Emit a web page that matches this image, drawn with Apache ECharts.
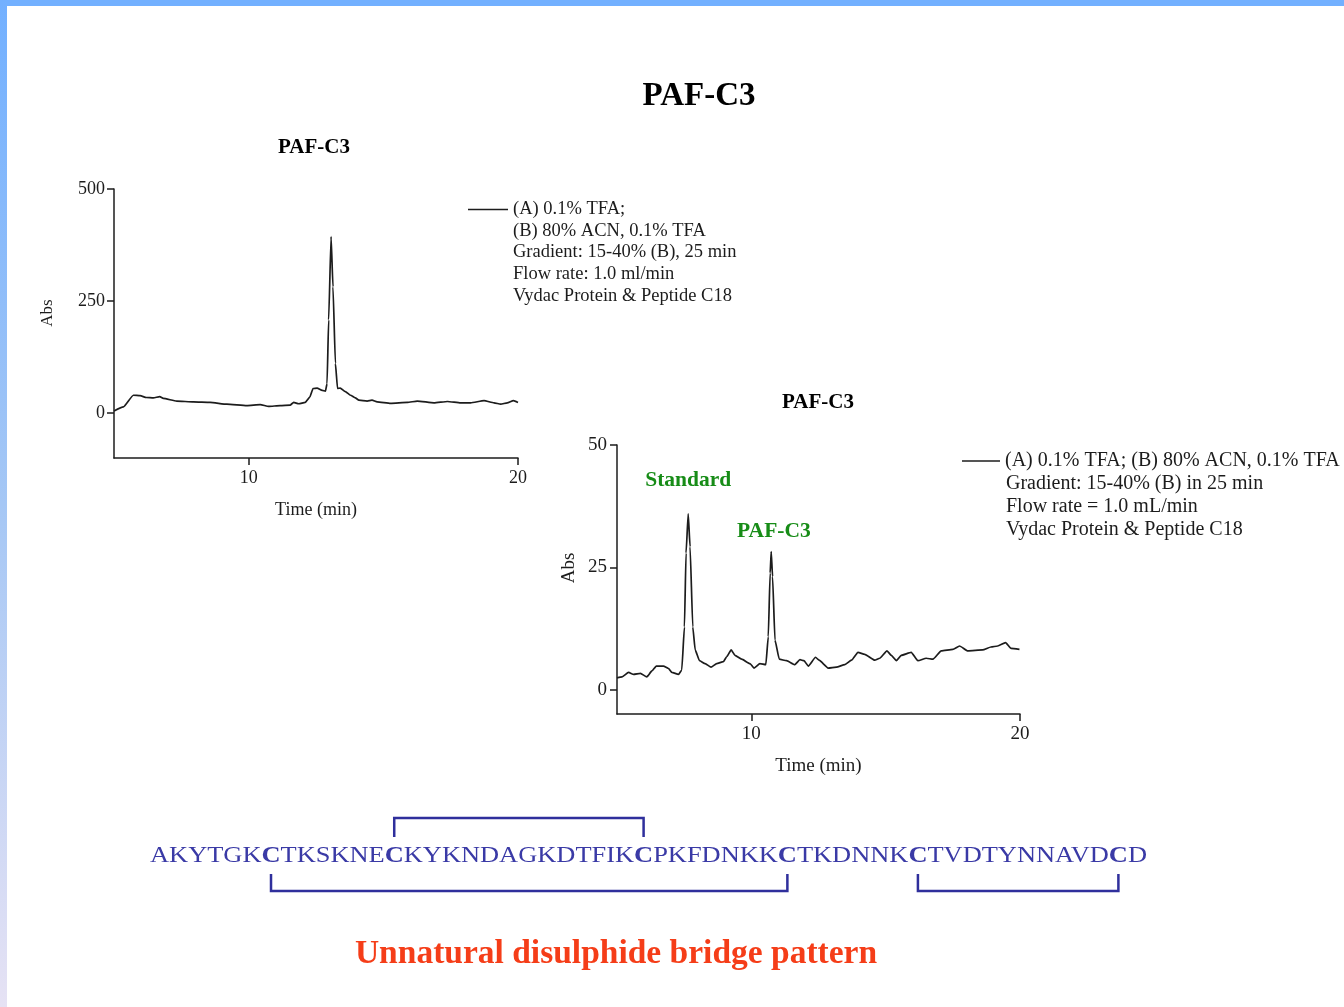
<!DOCTYPE html>
<html>
<head>
<meta charset="utf-8">
<title>PAF-C3</title>
<script src="https://cdn.jsdelivr.net/npm/echarts@6.0.0/dist/echarts.min.js"></script>
<style>
  html, body { margin: 0; padding: 0; background: #ffffff; }
  #chart { width: 1344px; height: 1007px; }
</style>
</head>
<body>
<div id="chart"></div>
<script>
// Chromatogram 1: PAF-C3 alone (retention time in min, absorbance)
const leftTime = [5.0, 5.35, 5.72, 5.97, 6.2, 6.46, 6.7, 6.83, 7.33, 7.95, 8.57, 9.19, 9.93, 10.43, 10.74,
  11.17, 11.54, 11.67, 11.86, 12.1, 12.27, 12.39, 12.54, 12.73, 12.85, 12.91, 12.97, 13.06, 13.13, 13.22,
  13.3, 13.4, 13.59, 13.78, 13.96, 14.09, 14.4, 14.58, 14.77, 15.27, 15.89, 16.26, 16.88, 17.38, 17.87,
  18.24, 18.74, 19.11, 19.36, 19.6, 19.83, 20.0];
const leftAbs = [5, 14, 40, 39, 35, 34, 37, 33, 27, 25, 24, 20, 17, 19, 15,
  17, 18, 24, 21, 24, 36, 55, 56, 51, 49, 66, 208, 394, 282, 111,
  55, 56, 48, 40, 34, 29, 27, 29, 25, 22, 24, 27, 23, 26, 23,
  23, 28, 23, 20, 23, 28, 24];

// Chromatogram 2: standard co-injected with PAF-C3
const rightTime = [5.0, 5.19, 5.43, 5.62, 5.87, 6.11, 6.3, 6.46, 6.73, 6.92, 7.04, 7.29, 7.41, 7.51, 7.57,
  7.65, 7.72, 7.82, 7.91, 8.07, 8.28, 8.5, 8.71, 8.96, 9.08, 9.25, 9.39, 9.64, 9.95, 10.1,
  10.32, 10.54, 10.63, 10.7, 10.74, 10.79, 10.88, 11.04, 11.31, 11.62, 11.81, 11.96, 12.12, 12.39, 12.52,
  12.86, 13.17, 13.48, 13.73, 13.97, 14.22, 14.59, 14.78, 15.05, 15.21, 15.4, 15.58, 15.95, 16.2, 16.51,
  16.76, 17.07, 17.5, 17.75, 18.06, 18.61, 18.92, 19.17, 19.46, 19.67, 19.98];
const rightAbs = [2.4, 2.6, 3.5, 3.1, 3.3, 2.6, 3.8, 4.8, 4.8, 4.3, 3.5, 3.1, 4.0, 12.8, 27.9,
  35.9, 29.2, 12.8, 8.1, 5.9, 5.3, 4.6, 5.3, 5.7, 6.7, 8.1, 7.0, 6.2, 5.3, 4.4,
  5.3, 5.1, 10.8, 23.8, 28.2, 23.1, 10.1, 6.2, 5.9, 5.1, 6.1, 5.9, 4.8, 6.6, 6.0,
  4.4, 4.6, 5.1, 6.0, 7.6, 7.2, 6.0, 6.4, 7.9, 7.0, 5.9, 7.0, 7.6, 5.9, 6.4,
  6.2, 7.9, 8.2, 8.9, 7.9, 8.1, 8.7, 8.9, 9.6, 8.4, 8.2];

const timeTicks = [10, 20];
const leftAbsTicks = [0, 250, 500];
const rightAbsTicks = [0, 25, 50];

const leftNotes = ['(A) 0.1% TFA;', '(B) 80% ACN, 0.1% TFA', 'Gradient: 15-40% (B), 25 min',
  'Flow rate: 1.0 ml/min', 'Vydac Protein & Peptide C18'];
const rightNotes = ['(A) 0.1% TFA; (B) 80% ACN, 0.1% TFA', 'Gradient: 15-40% (B) in 25 min',
  'Flow rate = 1.0 mL/min', 'Vydac Protein & Peptide C18'];

const peakLabels = ['Standard', 'PAF-C3'];

// Peptide sequence and its disulphide bridges (1-based residue numbers)
const sequence = 'AKYTGKCTKSKNECKYKNDAGKDTFIKCPKFDNKKCTKDNNKCTVDTYNNAVDCD';
const bridgesAbove = [[14, 28]];
const bridgesBelow = [[7, 36], [43, 54]];

const SERIF = '"Liberation Serif", "Times New Roman", serif';
const INK = '#1c1c1c';
const SEQ_BLUE = '#3a3aa6';
const BRIDGE_BLUE = '#2f2f9c';

// ---- sequence layout: measure runs so cysteines can be located ----
const seqSize = 24;
const mctx = document.createElement('canvas').getContext('2d');
const runs = [];
for (const ch of sequence) {
  const bold = ch === 'C';
  const last = runs[runs.length - 1];
  if (last && !bold && !last.bold) last.text += ch;
  else runs.push({ text: ch, bold });
}
let acc = 0, residue = 0;
const cysCenter = {};
runs.forEach(r => {
  r.font = (r.bold ? 'bold ' : '') + seqSize + 'px ' + SERIF;
  mctx.font = r.font;
  r.x = acc;
  r.w = mctx.measureText(r.text).width;
  if (r.bold) cysCenter[residue + 1] = acc + r.w / 2;
  acc += r.w;
  residue += r.text.length;
});
const seqLeft = 150, seqMid = 856, seqWidth = 997;
const seqScale = seqWidth / acc;
const cx = i => seqLeft + cysCenter[i] * seqScale;

const bridgeShapes = [];
bridgesAbove.forEach(([a, b]) => bridgeShapes.push({
  type: 'polyline',
  shape: { points: [[cx(a), 837], [cx(a), 818], [cx(b), 818], [cx(b), 837]] },
  style: { stroke: BRIDGE_BLUE, lineWidth: 2.5, fill: null }
}));
bridgesBelow.forEach(([a, b]) => bridgeShapes.push({
  type: 'polyline',
  shape: { points: [[cx(a), 874], [cx(a), 891], [cx(b), 891], [cx(b), 874]] },
  style: { stroke: BRIDGE_BLUE, lineWidth: 2.5, fill: null }
}));

function noteLines(lines, x, y0, step, size) {
  return lines.slice(1).map((t, i) => ({
    type: 'text', x: x, y: y0 + step * (i + 1),
    style: { text: t, font: size + 'px ' + SERIF, fill: INK, verticalAlign: 'middle', align: 'left' }
  }));
}

function valueAxis(gridIndex, min, max, ticks, fs, labelMargin, extra) {
  return Object.assign({
    type: 'value', gridIndex, min, max,
    axisLine: { show: true, onZero: false, lineStyle: { color: INK, width: 1.5 } },
    axisTick: { show: true, length: 7, inside: false, customValues: ticks, lineStyle: { color: INK, width: 1.5 } },
    axisLabel: { show: true, customValues: ticks, margin: labelMargin, fontFamily: SERIF, fontSize: fs, color: INK },
    splitLine: { show: false },
    nameTextStyle: { fontFamily: SERIF, color: INK }
  }, extra);
}

const chart = echarts.init(document.getElementById('chart'), null, { renderer: 'canvas' });

chart.setOption({
  backgroundColor: '#ffffff',
  animation: false,
  title: [
    { text: 'PAF-C3', left: 699, top: 96, textAlign: 'center', textVerticalAlign: 'middle', padding: 0,
      textStyle: { fontFamily: SERIF, fontSize: 33, fontWeight: 'bold', color: '#000' } },
    { text: 'PAF-C3', left: 314, top: 148, textAlign: 'center', textVerticalAlign: 'middle', padding: 0,
      textStyle: { fontFamily: SERIF, fontSize: 21, fontWeight: 'bold', color: '#000' } },
    { text: 'PAF-C3', left: 818, top: 403, textAlign: 'center', textVerticalAlign: 'middle', padding: 0,
      textStyle: { fontFamily: SERIF, fontSize: 21, fontWeight: 'bold', color: '#000' } },
    { text: 'Unnatural disulphide bridge pattern', left: 616, top: 954, textAlign: 'center', textVerticalAlign: 'middle', padding: 0,
      textStyle: { fontFamily: SERIF, fontSize: 33.5, fontWeight: 'bold', color: '#f53d18' } }
  ],
  legend: [
    { data: [leftNotes[0]], left: 468, top: 200, padding: 0, icon: 'rect', itemWidth: 40, itemHeight: 1.5,
      selectedMode: false, textStyle: { fontFamily: SERIF, fontSize: 18.5, color: INK } },
    { data: [rightNotes[0]], left: 962, top: 451, padding: 0, icon: 'rect', itemWidth: 38, itemHeight: 1.5,
      selectedMode: false, textStyle: { fontFamily: SERIF, fontSize: 20, color: INK } }
  ],
  grid: [
    { left: 114, top: 189, width: 404, height: 269, containLabel: false },
    { left: 617, top: 445, width: 403, height: 269, containLabel: false }
  ],
  xAxis: [
    valueAxis(0, 5, 20, timeTicks, 18, 11, { name: 'Time (min)', nameLocation: 'middle', nameGap: 43,
      nameTextStyle: { fontFamily: SERIF, fontSize: 18, color: INK } }),
    valueAxis(1, 5, 20, timeTicks, 19, 11, { name: 'Time (min)', nameLocation: 'middle', nameGap: 43,
      nameTextStyle: { fontFamily: SERIF, fontSize: 19, color: INK } })
  ],
  yAxis: [
    valueAxis(0, -100, 500, leftAbsTicks, 18, 9, { name: 'Abs', nameLocation: 'middle', nameGap: 58, nameRotate: 90,
      nameTextStyle: { fontFamily: SERIF, fontSize: 17, color: INK, padding: [0, 0, 0, 21] } }),
    valueAxis(1, -5, 50, rightAbsTicks, 19, 10, { name: 'Abs', nameLocation: 'middle', nameGap: 38, nameRotate: 90,
      nameTextStyle: { fontFamily: SERIF, fontSize: 19, color: INK, padding: [0, 0, 0, 23] } })
  ],
  series: [
    {
      name: leftNotes[0], type: 'line', xAxisIndex: 0, yAxisIndex: 0,
      data: leftTime.map((t, i) => [t, leftAbs[i]]),
      symbol: 'none', color: INK, smooth: 0.15, smoothMonotone: 'x',
      lineStyle: { color: INK, width: 1.7 }, silent: true
    },
    {
      name: rightNotes[0], type: 'line', xAxisIndex: 1, yAxisIndex: 1,
      data: rightTime.map((t, i) => [t, rightAbs[i]]),
      symbol: 'none', color: INK, smooth: 0.15, smoothMonotone: 'x',
      lineStyle: { color: INK, width: 1.7 }, silent: true,
      markPoint: {
        symbol: 'circle', symbolSize: 0, silent: true,
        label: { show: true, position: 'inside', formatter: '{b}', fontFamily: SERIF, fontSize: 21.5,
          fontWeight: 'bold', color: '#178c17' },
        data: [
          { name: peakLabels[0], coord: [7.65, 42.7] },
          { name: peakLabels[1], coord: [10.84, 32.4] }
        ]
      }
    }
  ],
  graphic: [
    { type: 'rect', shape: { x: 0, y: 0, width: 1344, height: 6 }, style: { fill: '#72b0ff' }, silent: true },
    { type: 'rect', shape: { x: 0, y: 0, width: 7, height: 1007 }, silent: true,
      style: { fill: { type: 'linear', x: 0, y: 0, x2: 0, y2: 1, colorStops: [
        { offset: 0, color: '#72b0ff' }, { offset: 0.5, color: '#a5c7f5' }, { offset: 1, color: '#e6e2f4' }] } } },
    ...noteLines(leftNotes, 513, 209, 21.7, 18.5),
    ...noteLines(rightNotes, 1006, 461, 23, 20),
    {
      type: 'group', x: seqLeft, y: seqMid, scaleX: seqScale, silent: true,
      children: runs.map(r => ({
        type: 'text', x: r.x, y: 0,
        style: { text: r.text, font: r.font, fill: SEQ_BLUE, verticalAlign: 'middle', align: 'left' }
      }))
    },
    ...bridgeShapes
  ]
});
</script>
</body>
</html>
